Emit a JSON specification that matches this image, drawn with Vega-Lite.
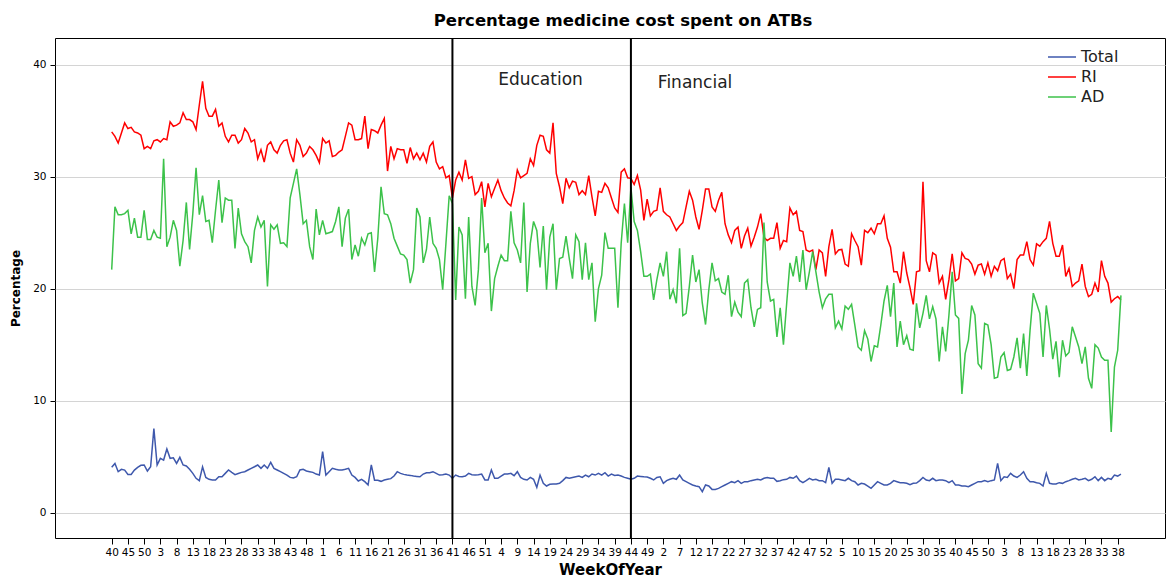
{
  "$schema": "https://vega.github.io/schema/vega-lite/v6.json",
  "width": 1110,
  "height": 500,
  "autosize": {"type": "none"},
  "padding": {"left": 55, "top": 38, "right": 3, "bottom": 41},
  "background": "white",
  "title": {"text": "Percentage medicine cost spent on ATBs", "font": "DejaVu Sans", "fontSize": 16.5, "fontWeight": "bold", "color": "#000", "anchor": "middle", "offset": 8, "dx": 13},
  "config": {
    "view": {"stroke": "#000", "strokeWidth": 1},
    "axis": {"labelColor": "#000", "titleColor": "#000", "tickColor": "#000"}
  },
  "datasets": {
    "weeks": [
      {"i":0,"week":40,"Total":4.05,"RI":34.0,"AD":21.7},
      {"i":1,"week":41,"Total":4.4,"RI":33.6,"AD":27.3},
      {"i":2,"week":42,"Total":3.66,"RI":33.0,"AD":26.6},
      {"i":3,"week":43,"Total":3.87,"RI":33.9,"AD":26.6},
      {"i":4,"week":44,"Total":3.8,"RI":34.8,"AD":26.7},
      {"i":5,"week":45,"Total":3.42,"RI":34.3,"AD":27.0},
      {"i":6,"week":46,"Total":3.42,"RI":34.4,"AD":24.9},
      {"i":7,"week":47,"Total":3.8,"RI":34.0,"AD":26.3},
      {"i":8,"week":48,"Total":4.05,"RI":33.9,"AD":24.6},
      {"i":9,"week":49,"Total":4.23,"RI":33.7,"AD":24.6},
      {"i":10,"week":50,"Total":4.26,"RI":32.5,"AD":27.0},
      {"i":11,"week":51,"Total":3.72,"RI":32.7,"AD":24.4},
      {"i":12,"week":52,"Total":4.1,"RI":32.5,"AD":24.4},
      {"i":13,"week":1,"Total":7.5,"RI":33.2,"AD":25.2},
      {"i":14,"week":2,"Total":4.26,"RI":33.3,"AD":24.6},
      {"i":15,"week":3,"Total":4.85,"RI":33.1,"AD":24.5},
      {"i":16,"week":4,"Total":4.7,"RI":33.4,"AD":31.6},
      {"i":17,"week":5,"Total":5.68,"RI":33.3,"AD":23.75},
      {"i":18,"week":6,"Total":4.85,"RI":34.9,"AD":24.6},
      {"i":19,"week":7,"Total":4.9,"RI":34.5,"AD":26.1},
      {"i":20,"week":8,"Total":4.4,"RI":34.6,"AD":25.2},
      {"i":21,"week":9,"Total":4.94,"RI":34.8,"AD":22.0},
      {"i":22,"week":10,"Total":4.26,"RI":35.7,"AD":24.3},
      {"i":23,"week":11,"Total":4.17,"RI":35.1,"AD":27.7},
      {"i":24,"week":12,"Total":3.87,"RI":35.1,"AD":23.5},
      {"i":25,"week":13,"Total":3.51,"RI":34.9,"AD":26.7},
      {"i":26,"week":14,"Total":3.07,"RI":34.2,"AD":30.8},
      {"i":27,"week":15,"Total":2.86,"RI":36.4,"AD":26.6},
      {"i":28,"week":16,"Total":4.1,"RI":38.5,"AD":28.3},
      {"i":29,"week":17,"Total":3.15,"RI":36.1,"AD":26.0},
      {"i":30,"week":18,"Total":2.98,"RI":35.4,"AD":26.1},
      {"i":31,"week":19,"Total":2.92,"RI":35.4,"AD":24.1},
      {"i":32,"week":20,"Total":2.92,"RI":36.0,"AD":27.0},
      {"i":33,"week":21,"Total":3.21,"RI":34.5,"AD":29.7},
      {"i":34,"week":22,"Total":3.21,"RI":34.8,"AD":25.9},
      {"i":35,"week":23,"Total":3.51,"RI":33.6,"AD":28.1},
      {"i":36,"week":24,"Total":3.81,"RI":33.1,"AD":27.9},
      {"i":37,"week":25,"Total":3.6,"RI":33.7,"AD":27.9},
      {"i":38,"week":26,"Total":3.4,"RI":33.7,"AD":23.6},
      {"i":39,"week":27,"Total":3.5,"RI":33.0,"AD":27.2},
      {"i":40,"week":28,"Total":3.6,"RI":33.3,"AD":24.9},
      {"i":41,"week":29,"Total":3.66,"RI":34.3,"AD":24.2},
      {"i":42,"week":30,"Total":3.81,"RI":33.9,"AD":23.75},
      {"i":43,"week":31,"Total":3.96,"RI":33.1,"AD":22.3},
      {"i":44,"week":32,"Total":4.1,"RI":33.3,"AD":25.2},
      {"i":45,"week":33,"Total":4.26,"RI":31.6,"AD":26.4},
      {"i":46,"week":34,"Total":3.96,"RI":32.4,"AD":25.5},
      {"i":47,"week":35,"Total":4.26,"RI":31.3,"AD":26.1},
      {"i":48,"week":36,"Total":3.96,"RI":32.8,"AD":20.2},
      {"i":49,"week":37,"Total":4.5,"RI":33.1,"AD":25.7},
      {"i":50,"week":38,"Total":3.96,"RI":32.4,"AD":25.3},
      {"i":51,"week":39,"Total":3.81,"RI":32.1,"AD":25.7},
      {"i":52,"week":40,"Total":3.66,"RI":32.8,"AD":24.05},
      {"i":53,"week":41,"Total":3.51,"RI":33.2,"AD":24.1},
      {"i":54,"week":42,"Total":3.36,"RI":33.3,"AD":23.75},
      {"i":55,"week":43,"Total":3.15,"RI":32.1,"AD":28.1},
      {"i":56,"week":44,"Total":3.1,"RI":31.3,"AD":29.4},
      {"i":57,"week":45,"Total":3.21,"RI":33.3,"AD":30.7},
      {"i":58,"week":46,"Total":3.81,"RI":32.8,"AD":28.4},
      {"i":59,"week":47,"Total":3.87,"RI":31.8,"AD":25.8},
      {"i":60,"week":48,"Total":3.72,"RI":32.1,"AD":26.1},
      {"i":61,"week":49,"Total":3.66,"RI":32.7,"AD":23.75},
      {"i":62,"week":50,"Total":3.6,"RI":32.4,"AD":22.6},
      {"i":63,"week":51,"Total":3.45,"RI":31.9,"AD":27.1},
      {"i":64,"week":52,"Total":3.36,"RI":31.25,"AD":24.8},
      {"i":65,"week":1,"Total":5.45,"RI":33.4,"AD":26.1},
      {"i":66,"week":2,"Total":3.36,"RI":33.0,"AD":24.9},
      {"i":67,"week":3,"Total":3.66,"RI":33.2,"AD":25.0},
      {"i":68,"week":4,"Total":3.96,"RI":31.8,"AD":25.1},
      {"i":69,"week":5,"Total":3.87,"RI":31.9,"AD":26.0},
      {"i":70,"week":6,"Total":3.81,"RI":32.2,"AD":27.3},
      {"i":71,"week":7,"Total":3.81,"RI":32.4,"AD":23.75},
      {"i":72,"week":8,"Total":3.87,"RI":33.6,"AD":26.3},
      {"i":73,"week":9,"Total":3.96,"RI":34.8,"AD":27.1},
      {"i":74,"week":10,"Total":3.36,"RI":34.6,"AD":22.6},
      {"i":75,"week":11,"Total":3.15,"RI":33.3,"AD":23.9},
      {"i":76,"week":12,"Total":2.83,"RI":33.3,"AD":22.9},
      {"i":77,"week":13,"Total":2.98,"RI":33.4,"AD":24.5},
      {"i":78,"week":14,"Total":2.77,"RI":35.4,"AD":23.9},
      {"i":79,"week":15,"Total":2.47,"RI":32.5,"AD":24.9},
      {"i":80,"week":16,"Total":4.26,"RI":34.2,"AD":25.0},
      {"i":81,"week":17,"Total":2.9,"RI":34.1,"AD":21.5},
      {"i":82,"week":18,"Total":2.9,"RI":33.9,"AD":24.5},
      {"i":83,"week":19,"Total":2.8,"RI":34.6,"AD":29.1},
      {"i":84,"week":20,"Total":2.92,"RI":35.2,"AD":26.7},
      {"i":85,"week":21,"Total":2.98,"RI":30.5,"AD":26.6},
      {"i":86,"week":22,"Total":3.04,"RI":32.7,"AD":25.8},
      {"i":87,"week":23,"Total":3.27,"RI":31.6,"AD":24.5},
      {"i":88,"week":24,"Total":3.66,"RI":32.5,"AD":23.8},
      {"i":89,"week":25,"Total":3.51,"RI":32.4,"AD":23.1},
      {"i":90,"week":26,"Total":3.42,"RI":32.4,"AD":23.0},
      {"i":91,"week":27,"Total":3.36,"RI":31.2,"AD":22.6},
      {"i":92,"week":28,"Total":3.33,"RI":32.6,"AD":20.5},
      {"i":93,"week":29,"Total":3.27,"RI":31.6,"AD":21.7},
      {"i":94,"week":30,"Total":3.24,"RI":32.1,"AD":27.2},
      {"i":95,"week":31,"Total":3.21,"RI":31.5,"AD":26.4},
      {"i":96,"week":32,"Total":3.45,"RI":32.1,"AD":22.3},
      {"i":97,"week":33,"Total":3.57,"RI":31.3,"AD":23.5},
      {"i":98,"week":34,"Total":3.57,"RI":32.7,"AD":26.4},
      {"i":99,"week":35,"Total":3.66,"RI":33.1,"AD":24.05},
      {"i":100,"week":36,"Total":3.51,"RI":31.3,"AD":23.6},
      {"i":101,"week":37,"Total":3.36,"RI":30.7,"AD":22.6},
      {"i":102,"week":38,"Total":3.39,"RI":30.9,"AD":19.9},
      {"i":103,"week":39,"Total":3.45,"RI":29.9,"AD":24.05},
      {"i":104,"week":40,"Total":3.36,"RI":30.1,"AD":28.3},
      {"i":105,"week":41,"Total":3.07,"RI":28.1,"AD":27.6},
      {"i":106,"week":42,"Total":3.36,"RI":29.7,"AD":19.0},
      {"i":107,"week":43,"Total":3.24,"RI":30.4,"AD":25.5},
      {"i":108,"week":44,"Total":3.21,"RI":29.7,"AD":24.8},
      {"i":109,"week":45,"Total":3.27,"RI":31.5,"AD":19.1},
      {"i":110,"week":46,"Total":3.51,"RI":29.85,"AD":26.4},
      {"i":111,"week":47,"Total":3.39,"RI":30.0,"AD":20.2},
      {"i":112,"week":48,"Total":3.36,"RI":28.4,"AD":18.5},
      {"i":113,"week":49,"Total":3.39,"RI":28.7,"AD":21.7},
      {"i":114,"week":50,"Total":3.45,"RI":29.55,"AD":28.1},
      {"i":115,"week":51,"Total":2.92,"RI":27.3,"AD":23.2},
      {"i":116,"week":52,"Total":2.92,"RI":29.4,"AD":24.05},
      {"i":117,"week":1,"Total":3.81,"RI":28.2,"AD":18.0},
      {"i":118,"week":2,"Total":3.07,"RI":28.96,"AD":20.9},
      {"i":119,"week":3,"Total":3.07,"RI":29.7,"AD":22.0},
      {"i":120,"week":4,"Total":3.27,"RI":28.75,"AD":23.0},
      {"i":121,"week":5,"Total":3.45,"RI":28.1,"AD":22.5},
      {"i":122,"week":6,"Total":3.45,"RI":27.65,"AD":22.5},
      {"i":123,"week":7,"Total":3.51,"RI":27.4,"AD":26.9},
      {"i":124,"week":8,"Total":3.3,"RI":28.75,"AD":24.1},
      {"i":125,"week":9,"Total":3.66,"RI":30.6,"AD":23.45},
      {"i":126,"week":10,"Total":3.15,"RI":29.9,"AD":22.3},
      {"i":127,"week":11,"Total":2.98,"RI":30.1,"AD":27.7},
      {"i":128,"week":12,"Total":2.92,"RI":30.3,"AD":19.7},
      {"i":129,"week":13,"Total":3.15,"RI":31.6,"AD":24.05},
      {"i":130,"week":14,"Total":2.98,"RI":31.0,"AD":26.0},
      {"i":131,"week":15,"Total":2.26,"RI":32.8,"AD":25.2},
      {"i":132,"week":16,"Total":3.36,"RI":33.7,"AD":21.9},
      {"i":133,"week":17,"Total":2.62,"RI":33.6,"AD":25.6},
      {"i":134,"week":18,"Total":2.38,"RI":32.4,"AD":19.9},
      {"i":135,"week":19,"Total":2.53,"RI":32.1,"AD":24.6},
      {"i":136,"week":20,"Total":2.56,"RI":34.8,"AD":25.8},
      {"i":137,"week":21,"Total":2.56,"RI":30.3,"AD":19.9},
      {"i":138,"week":22,"Total":2.62,"RI":29.1,"AD":22.7},
      {"i":139,"week":23,"Total":2.86,"RI":27.6,"AD":22.8},
      {"i":140,"week":24,"Total":3.15,"RI":29.85,"AD":24.7},
      {"i":141,"week":25,"Total":3.07,"RI":29.0,"AD":22.7},
      {"i":142,"week":26,"Total":3.15,"RI":29.6,"AD":20.9},
      {"i":143,"week":27,"Total":3.21,"RI":29.5,"AD":24.8},
      {"i":144,"week":28,"Total":3.27,"RI":28.4,"AD":24.2},
      {"i":145,"week":29,"Total":3.15,"RI":28.75,"AD":20.8},
      {"i":146,"week":30,"Total":3.36,"RI":28.4,"AD":24.1},
      {"i":147,"week":31,"Total":3.21,"RI":30.1,"AD":20.8},
      {"i":148,"week":32,"Total":3.45,"RI":28.2,"AD":22.3},
      {"i":149,"week":33,"Total":3.36,"RI":26.5,"AD":17.05},
      {"i":150,"week":34,"Total":3.51,"RI":28.7,"AD":20.0},
      {"i":151,"week":35,"Total":3.36,"RI":28.6,"AD":21.2},
      {"i":152,"week":36,"Total":3.57,"RI":29.4,"AD":25.0},
      {"i":153,"week":37,"Total":3.27,"RI":29.0,"AD":23.6},
      {"i":154,"week":38,"Total":3.45,"RI":28.1,"AD":23.6},
      {"i":155,"week":39,"Total":3.33,"RI":27.2,"AD":23.6},
      {"i":156,"week":40,"Total":3.36,"RI":26.8,"AD":18.3},
      {"i":157,"week":41,"Total":3.27,"RI":30.4,"AD":24.05},
      {"i":158,"week":42,"Total":3.15,"RI":30.7,"AD":27.6},
      {"i":159,"week":43,"Total":3.07,"RI":29.9,"AD":24.1},
      {"i":160,"week":44,"Total":2.98,"RI":29.85,"AD":29.05},
      {"i":161,"week":45,"Total":3.07,"RI":29.3,"AD":26.0},
      {"i":162,"week":46,"Total":3.27,"RI":30.1,"AD":25.2},
      {"i":163,"week":47,"Total":3.24,"RI":28.8,"AD":23.3},
      {"i":164,"week":48,"Total":3.2,"RI":26.1,"AD":21.1},
      {"i":165,"week":49,"Total":3.18,"RI":28.0,"AD":21.1},
      {"i":166,"week":50,"Total":3.07,"RI":26.5,"AD":21.3},
      {"i":167,"week":51,"Total":2.92,"RI":26.9,"AD":19.0},
      {"i":168,"week":52,"Total":3.15,"RI":27.0,"AD":20.8},
      {"i":169,"week":1,"Total":3.21,"RI":29.0,"AD":22.3},
      {"i":170,"week":2,"Total":2.62,"RI":26.9,"AD":21.1},
      {"i":171,"week":3,"Total":2.86,"RI":26.6,"AD":23.3},
      {"i":172,"week":4,"Total":2.98,"RI":26.4,"AD":19.05},
      {"i":173,"week":5,"Total":3.07,"RI":25.8,"AD":19.9},
      {"i":174,"week":6,"Total":2.98,"RI":25.2,"AD":18.7},
      {"i":175,"week":7,"Total":3.36,"RI":25.6,"AD":23.6},
      {"i":176,"week":8,"Total":2.92,"RI":25.9,"AD":17.6},
      {"i":177,"week":9,"Total":2.77,"RI":27.3,"AD":17.8},
      {"i":178,"week":10,"Total":2.62,"RI":28.7,"AD":20.2},
      {"i":179,"week":11,"Total":2.47,"RI":27.9,"AD":23.0},
      {"i":180,"week":12,"Total":2.38,"RI":26.4,"AD":20.6},
      {"i":181,"week":13,"Total":2.32,"RI":25.3,"AD":21.7},
      {"i":182,"week":14,"Total":1.88,"RI":27.0,"AD":18.7},
      {"i":183,"week":15,"Total":2.47,"RI":28.9,"AD":16.8},
      {"i":184,"week":16,"Total":2.38,"RI":28.9,"AD":19.9},
      {"i":185,"week":17,"Total":2.08,"RI":27.3,"AD":22.3},
      {"i":186,"week":18,"Total":2.08,"RI":26.9,"AD":20.7},
      {"i":187,"week":19,"Total":2.17,"RI":27.9,"AD":20.9},
      {"i":188,"week":20,"Total":2.32,"RI":28.6,"AD":19.7},
      {"i":189,"week":21,"Total":2.47,"RI":25.8,"AD":19.5},
      {"i":190,"week":22,"Total":2.62,"RI":24.8,"AD":21.2},
      {"i":191,"week":23,"Total":2.77,"RI":24.1,"AD":17.5},
      {"i":192,"week":24,"Total":2.68,"RI":25.2,"AD":18.8},
      {"i":193,"week":25,"Total":2.86,"RI":25.5,"AD":17.9},
      {"i":194,"week":26,"Total":2.62,"RI":23.6,"AD":17.5},
      {"i":195,"week":27,"Total":2.77,"RI":24.7,"AD":20.5},
      {"i":196,"week":28,"Total":2.77,"RI":25.4,"AD":20.8},
      {"i":197,"week":29,"Total":2.86,"RI":23.8,"AD":18.3},
      {"i":198,"week":30,"Total":2.92,"RI":24.6,"AD":16.6},
      {"i":199,"week":31,"Total":2.98,"RI":25.5,"AD":18.15},
      {"i":200,"week":32,"Total":2.92,"RI":26.7,"AD":18.3},
      {"i":201,"week":33,"Total":3.07,"RI":24.6,"AD":25.9},
      {"i":202,"week":34,"Total":3.15,"RI":24.3,"AD":20.6},
      {"i":203,"week":35,"Total":3.07,"RI":24.5,"AD":18.9},
      {"i":204,"week":36,"Total":3.07,"RI":24.5,"AD":19.05},
      {"i":205,"week":37,"Total":2.8,"RI":25.9,"AD":15.7},
      {"i":206,"week":38,"Total":2.85,"RI":23.6,"AD":18.3},
      {"i":207,"week":39,"Total":2.95,"RI":24.3,"AD":15.0},
      {"i":208,"week":40,"Total":2.98,"RI":24.2,"AD":18.7},
      {"i":209,"week":41,"Total":3.15,"RI":27.2,"AD":22.3},
      {"i":210,"week":42,"Total":3.07,"RI":26.6,"AD":21.1},
      {"i":211,"week":43,"Total":3.27,"RI":26.9,"AD":22.9},
      {"i":212,"week":44,"Total":2.86,"RI":25.2,"AD":20.6},
      {"i":213,"week":45,"Total":2.68,"RI":25.1,"AD":23.45},
      {"i":214,"week":46,"Total":2.86,"RI":23.45,"AD":19.9},
      {"i":215,"week":47,"Total":3.07,"RI":23.3,"AD":21.5},
      {"i":216,"week":48,"Total":2.92,"RI":23.45,"AD":23.3},
      {"i":217,"week":49,"Total":2.98,"RI":21.7,"AD":21.5},
      {"i":218,"week":50,"Total":2.86,"RI":23.45,"AD":19.7},
      {"i":219,"week":51,"Total":2.86,"RI":23.2,"AD":18.3},
      {"i":220,"week":52,"Total":2.68,"RI":21.1,"AD":19.1},
      {"i":221,"week":1,"Total":4.05,"RI":23.75,"AD":19.5},
      {"i":222,"week":2,"Total":2.62,"RI":25.3,"AD":19.5},
      {"i":223,"week":3,"Total":2.98,"RI":23.1,"AD":16.5},
      {"i":224,"week":4,"Total":2.98,"RI":23.45,"AD":17.1},
      {"i":225,"week":5,"Total":2.92,"RI":23.5,"AD":16.4},
      {"i":226,"week":6,"Total":2.86,"RI":22.2,"AD":18.45},
      {"i":227,"week":7,"Total":3.07,"RI":22.0,"AD":18.15},
      {"i":228,"week":8,"Total":2.86,"RI":24.9,"AD":18.6},
      {"i":229,"week":9,"Total":2.77,"RI":24.3,"AD":16.75},
      {"i":230,"week":10,"Total":2.47,"RI":23.75,"AD":14.8},
      {"i":231,"week":11,"Total":2.62,"RI":22.1,"AD":14.5},
      {"i":232,"week":12,"Total":2.56,"RI":25.2,"AD":16.25},
      {"i":233,"week":13,"Total":2.38,"RI":25.0,"AD":15.5},
      {"i":234,"week":14,"Total":2.17,"RI":25.4,"AD":13.5},
      {"i":235,"week":15,"Total":2.47,"RI":24.9,"AD":14.9},
      {"i":236,"week":16,"Total":2.77,"RI":25.8,"AD":14.8},
      {"i":237,"week":17,"Total":2.62,"RI":25.8,"AD":16.75},
      {"i":238,"week":18,"Total":2.47,"RI":26.5,"AD":18.9},
      {"i":239,"week":19,"Total":2.47,"RI":24.5,"AD":20.3},
      {"i":240,"week":20,"Total":2.62,"RI":23.7,"AD":17.5},
      {"i":241,"week":21,"Total":2.86,"RI":21.5,"AD":20.5},
      {"i":242,"week":22,"Total":2.77,"RI":21.5,"AD":14.8},
      {"i":243,"week":23,"Total":2.68,"RI":20.5,"AD":17.1},
      {"i":244,"week":24,"Total":2.68,"RI":23.3,"AD":15.0},
      {"i":245,"week":25,"Total":2.62,"RI":21.4,"AD":15.8},
      {"i":246,"week":26,"Total":2.5,"RI":20.1,"AD":14.6},
      {"i":247,"week":27,"Total":2.62,"RI":18.6,"AD":14.5},
      {"i":248,"week":28,"Total":2.65,"RI":21.5,"AD":18.7},
      {"i":249,"week":29,"Total":2.86,"RI":21.6,"AD":16.5},
      {"i":250,"week":30,"Total":3.15,"RI":29.55,"AD":17.8},
      {"i":251,"week":31,"Total":2.92,"RI":22.5,"AD":19.4},
      {"i":252,"week":32,"Total":2.86,"RI":21.5,"AD":17.3},
      {"i":253,"week":33,"Total":3.07,"RI":23.2,"AD":18.4},
      {"i":254,"week":34,"Total":2.86,"RI":23.0,"AD":17.3},
      {"i":255,"week":35,"Total":2.92,"RI":20.5,"AD":13.5},
      {"i":256,"week":36,"Total":2.92,"RI":21.1,"AD":16.6},
      {"i":257,"week":37,"Total":2.86,"RI":19.05,"AD":14.4},
      {"i":258,"week":38,"Total":2.68,"RI":20.8,"AD":17.65},
      {"i":259,"week":39,"Total":2.86,"RI":23.1,"AD":21.5},
      {"i":260,"week":40,"Total":2.47,"RI":20.7,"AD":17.65},
      {"i":261,"week":41,"Total":2.47,"RI":20.9,"AD":17.35},
      {"i":262,"week":42,"Total":2.38,"RI":23.2,"AD":10.6},
      {"i":263,"week":43,"Total":2.38,"RI":22.7,"AD":14.2},
      {"i":264,"week":44,"Total":2.32,"RI":22.6,"AD":15.4},
      {"i":265,"week":45,"Total":2.47,"RI":22.2,"AD":18.5},
      {"i":266,"week":46,"Total":2.62,"RI":21.3,"AD":17.65},
      {"i":267,"week":47,"Total":2.77,"RI":22.1,"AD":13.3},
      {"i":268,"week":48,"Total":2.77,"RI":22.2,"AD":12.9},
      {"i":269,"week":49,"Total":2.86,"RI":21.3,"AD":16.9},
      {"i":270,"week":50,"Total":2.77,"RI":22.3,"AD":16.75},
      {"i":271,"week":51,"Total":2.86,"RI":21.1,"AD":15.0},
      {"i":272,"week":52,"Total":2.92,"RI":22.0,"AD":12.0},
      {"i":273,"week":1,"Total":4.4,"RI":21.6,"AD":12.1},
      {"i":274,"week":2,"Total":2.86,"RI":22.5,"AD":13.9},
      {"i":275,"week":3,"Total":3.21,"RI":22.7,"AD":14.3},
      {"i":276,"week":4,"Total":3.15,"RI":20.9,"AD":12.7},
      {"i":277,"week":5,"Total":3.51,"RI":21.3,"AD":12.8},
      {"i":278,"week":6,"Total":3.27,"RI":20.0,"AD":13.9},
      {"i":279,"week":7,"Total":3.15,"RI":22.6,"AD":15.6},
      {"i":280,"week":8,"Total":3.36,"RI":23.0,"AD":12.9},
      {"i":281,"week":9,"Total":3.66,"RI":23.0,"AD":16.0},
      {"i":282,"week":10,"Total":3.07,"RI":24.2,"AD":12.2},
      {"i":283,"week":11,"Total":2.77,"RI":22.6,"AD":16.3},
      {"i":284,"week":12,"Total":2.77,"RI":22.1,"AD":19.6},
      {"i":285,"week":13,"Total":2.68,"RI":24.0,"AD":18.7},
      {"i":286,"week":14,"Total":2.62,"RI":23.8,"AD":17.8},
      {"i":287,"week":15,"Total":2.38,"RI":24.2,"AD":13.9},
      {"i":288,"week":16,"Total":3.51,"RI":24.5,"AD":18.5},
      {"i":289,"week":17,"Total":2.62,"RI":26.0,"AD":16.4},
      {"i":290,"week":18,"Total":2.56,"RI":24.05,"AD":13.7},
      {"i":291,"week":19,"Total":2.56,"RI":22.9,"AD":15.3},
      {"i":292,"week":20,"Total":2.68,"RI":22.9,"AD":12.1},
      {"i":293,"week":21,"Total":2.62,"RI":23.9,"AD":15.4},
      {"i":294,"week":22,"Total":2.77,"RI":21.1,"AD":14.0},
      {"i":295,"week":23,"Total":2.86,"RI":21.8,"AD":14.3},
      {"i":296,"week":24,"Total":2.98,"RI":20.2,"AD":16.6},
      {"i":297,"week":25,"Total":3.07,"RI":20.5,"AD":15.7},
      {"i":298,"week":26,"Total":2.92,"RI":20.7,"AD":14.8},
      {"i":299,"week":27,"Total":2.98,"RI":22.2,"AD":13.3},
      {"i":300,"week":28,"Total":3.07,"RI":20.2,"AD":14.8},
      {"i":301,"week":29,"Total":2.86,"RI":19.3,"AD":12.0},
      {"i":302,"week":30,"Total":2.98,"RI":19.5,"AD":11.1},
      {"i":303,"week":31,"Total":3.21,"RI":20.5,"AD":15.0},
      {"i":304,"week":32,"Total":2.86,"RI":19.7,"AD":14.7},
      {"i":305,"week":33,"Total":3.15,"RI":22.5,"AD":13.9},
      {"i":306,"week":34,"Total":2.86,"RI":21.1,"AD":13.6},
      {"i":307,"week":35,"Total":3.07,"RI":20.5,"AD":13.6},
      {"i":308,"week":36,"Total":2.98,"RI":18.8,"AD":7.2},
      {"i":309,"week":37,"Total":3.36,"RI":19.1,"AD":13.0},
      {"i":310,"week":38,"Total":3.27,"RI":19.3,"AD":14.5},
      {"i":311,"week":39,"Total":3.45,"RI":19.0,"AD":19.4}
    ],
    "notes": [
      {"i": 105, "label": "Education", "tx": 119.1, "ty": 38.6},
      {"i": 160, "label": "Financial", "tx": 168.3, "ty": 38.35}
    ]
  },
  "layer": [
    {
      "data": {"name": "weeks"},
      "transform": [{"fold": ["Total", "RI", "AD"], "as": ["series", "pct"]}],
      "mark": {"type": "line", "strokeWidth": 1.5, "interpolate": "linear"},
      "encoding": {
        "x": {
          "field": "i", "type": "quantitative",
          "scale": {"domain": [-17.47, 324.58], "nice": false, "zero": false},
          "axis": {
            "values": [0,5,10,15,20,25,30,35,40,45,50,55,60,65,70,75,80,85,90,95,100,105,110,115,120,125,130,135,140,145,150,155,160,165,170,175,180,185,190,195,200,205,210,215,220,225,230,235,240,245,250,255,260,265,270,275,280,285,290,295,300,305,310],
            "tickCount": 1000,
            "labelExpr": "((datum.value + 39) % 52) + 1",
            "grid": false, "domain": false, "tickSize": 6,
            "labelFont": "DejaVu Sans", "labelFontSize": 10.5, "labelPadding": 3,
            "labelOverlap": false, "labelFlush": false, "labelBound": false,
            "title": "WeekOfYear", "titleFont": "DejaVu Sans", "titleFontSize": 15, "titleFontWeight": "bold", "titlePadding": 5
          }
        },
        "y": {
          "field": "pct", "type": "quantitative",
          "scale": {"domain": [-2.26, 42.38], "nice": false, "zero": false},
          "axis": {
            "values": [0, 10, 20, 30, 40],
            "grid": true, "gridColor": "#d4d4d4", "domain": false, "tickSize": 5,
            "labelFont": "DejaVu Sans", "labelFontSize": 10.5, "labelPadding": 4,
            "title": "Percentage", "titleFont": "DejaVu Sans", "titleFontSize": 12, "titleFontWeight": "bold", "titlePadding": 10
          }
        },
        "color": {
          "field": "series", "type": "nominal",
          "scale": {"domain": ["Total", "RI", "AD"], "range": ["#3e58ac", "#ff0000", "#3cc24a"]},
          "legend": {
            "orient": "none", "legendX": 992, "legendY": 9, "title": null,
            "symbolType": "stroke", "symbolSize": 784, "symbolStrokeWidth": 1.5,
            "labelFont": "DejaVu Sans", "labelFontSize": 16, "labelColor": "#222",
            "labelOffset": 4, "rowPadding": 0, "clipHeight": 20, "padding": 0
          }
        }
      }
    },
    {
      "data": {"name": "notes"},
      "mark": {"type": "rule", "color": "#000", "strokeWidth": 2},
      "encoding": {"x": {"field": "i", "type": "quantitative"}}
    },
    {
      "data": {"name": "notes"},
      "mark": {"type": "text", "align": "left", "baseline": "middle", "font": "DejaVu Sans", "fontSize": 17, "color": "#222"},
      "encoding": {
        "x": {"field": "tx", "type": "quantitative"},
        "y": {"field": "ty", "type": "quantitative"},
        "text": {"field": "label"}
      }
    }
  ]
}
